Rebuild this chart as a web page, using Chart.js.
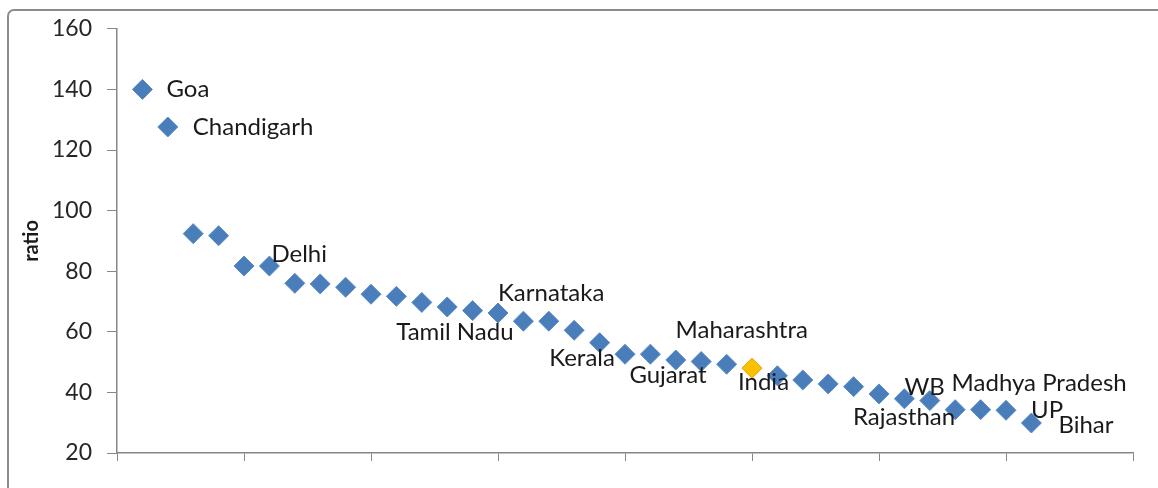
<!DOCTYPE html>
<html>
<head>
<meta charset="utf-8">
<script src="https://cdn.jsdelivr.net/npm/chart.js@4.4.0/dist/chart.umd.min.js"></script>
<style>
  html, body { margin: 0; padding: 0; background: #fff; }
  #wrap { width: 1158px; height: 488px; }
</style>
</head>
<body>
<div id="wrap"><canvas id="chart"></canvas></div>
<script>
// state names per point ('' = no label), ordered as in the chart
const states = [
  'Goa', 'Chandigarh', '', '', '', 'Delhi', '', '', '', '', '', '',
  'Tamil Nadu', '', 'Karnataka', '', '', 'Kerala', '', '', 'Gujarat', '', '',
  'Maharashtra', 'India', '', '', '', '', 'Rajasthan', 'WB', '', '',
  'Madhya Pradesh', 'UP', 'Bihar'
];

// ratio values
const ratios = [
  140, 127.6, 92.4, 91.7, 81.7, 81.7, 76.0, 75.8, 74.7, 72.4, 71.7, 69.7,
  68.2, 67.0, 66.2, 63.5, 63.5, 60.5, 56.4, 52.6, 52.6, 50.7, 50.2,
  49.3, 48.0, 45.5, 44.1, 42.8, 41.9, 39.5, 37.9, 37.3, 34.3,
  34.3, 34.1, 29.9
];

const yTicks = [20, 40, 60, 80, 100, 120, 140, 160];

// where each label sits relative to its marker (left edge dx, middle dy)
const LABEL_POS = {
  'Goa': [24, 0],
  'Chandigarh': [25, 0],
  'Delhi': [2, -12],
  'Tamil Nadu': [-51, 25],
  'Karnataka': [0, -20],
  'Kerala': [-25, 28],
  'Gujarat': [-21, 21],
  'Maharashtra': [-51, -34],
  'India': [-14, 14],
  'Rajasthan': [-26, 23],
  'WB': [0, -11],
  'Madhya Pradesh': [-29, -26],
  'UP': [25, 0],
  'Bihar': [27, 2]
};

const BLUE = '#4a7ebb';
const ORANGE = '#ffc000';
const AXIS = '#868686';
const FONT = 'Lato, "Open Sans", sans-serif';

const points = ratios.map((v, i) => ({ x: i + 1, y: v }));
const fills = states.map(s => s === 'India' ? ORANGE : BLUE);
const edges = states.map(s => s === 'India' ? '#d9a400' : '#5b8ac4');

// gray frame around the chart, like the original sheet object
const framePlugin = {
  id: 'frame',
  beforeDraw(chart) {
    const ctx = chart.ctx;
    ctx.save();
    ctx.strokeStyle = '#8c8c8c';
    ctx.lineWidth = 2;
    ctx.beginPath();
    ctx.moveTo(8, chart.height + 10);
    ctx.lineTo(8, 16);
    ctx.arcTo(8, 10, 14, 10, 6);
    ctx.lineTo(chart.width + 10, 10);
    ctx.stroke();
    ctx.restore();
  }
};

// state names next to their markers
const namePlugin = {
  id: 'names',
  afterDatasetsDraw(chart) {
    const ctx = chart.ctx;
    const meta = chart.getDatasetMeta(0);
    ctx.save();
    ctx.font = '24px ' + FONT;
    ctx.fillStyle = '#1a1a1a';
    ctx.textAlign = 'left';
    ctx.textBaseline = 'middle';
    states.forEach((name, i) => {
      if (!name) return;
      const pt = meta.data[i];
      const off = LABEL_POS[name] || [10, 0];
      ctx.fillText(name, pt.x + off[0], pt.y + off[1]);
    });
    ctx.restore();
  }
};

new Chart(document.getElementById('chart'), {
  type: 'scatter',
  data: {
    datasets: [{
      label: 'ratio',
      data: points,
      pointStyle: 'rectRot',
      pointRadius: 10,
      pointHoverRadius: 10,
      backgroundColor: fills,
      borderColor: edges,
      borderWidth: 1
    }]
  },
  options: {
    responsive: true,
    maintainAspectRatio: false,
    animation: false,
    layout: { padding: { left: 18, top: 23, right: 25, bottom: 0 } },
    plugins: {
      legend: { display: false },
      tooltip: { enabled: false }
    },
    scales: {
      x: {
        type: 'linear',
        min: 0,
        max: 40,
        ticks: { stepSize: 5, display: false },
        grid: { drawOnChartArea: false, tickLength: 8, color: AXIS },
        border: { color: AXIS, width: 1.5 },
        afterFit(scale) { scale.height = 35; }
      },
      y: {
        type: 'linear',
        min: 20,
        max: 160,
        afterBuildTicks(scale) { scale.ticks = yTicks.map(v => ({ value: v })); },
        ticks: {
          color: '#262626',
          font: { family: FONT, size: 23 },
          padding: 15
        },
        grid: { drawOnChartArea: false, tickLength: 10, color: AXIS },
        border: { color: AXIS, width: 1.5 },
        title: {
          display: true,
          text: 'ratio',
          color: '#1a1a1a',
          font: { family: FONT, size: 20, weight: 'bold' },
          padding: { top: 2, bottom: 0 }
        },
        afterFit(scale) { scale.width = 99; }
      }
    }
  },
  plugins: [framePlugin, namePlugin]
});
</script>
</body>
</html>
